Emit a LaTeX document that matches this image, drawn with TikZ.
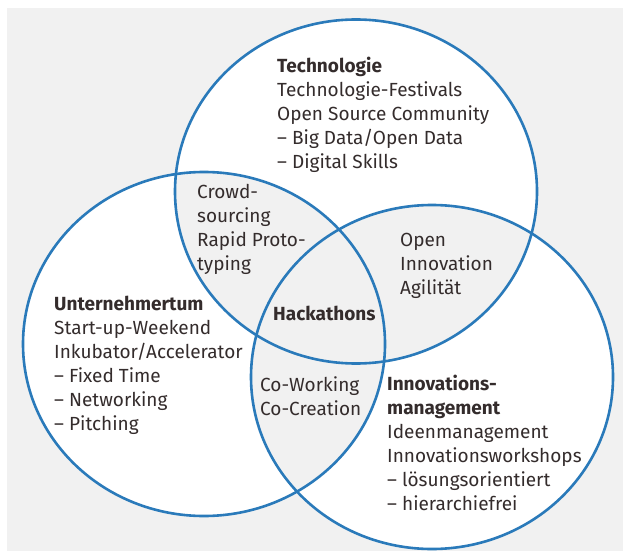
\documentclass[tikz,border=0pt]{standalone}
\usepackage{fontspec}
\setmainfont{Fira Sans}
\usepackage{tikz}
\usetikzlibrary{positioning}
\usepackage{xcolor}
\definecolor{ringblue}{RGB}{42,122,186}
\definecolor{ink}{RGB}{52,44,44}
\definecolor{paper}{RGB}{241,241,241}
\tikzset{
  orbit/.style={draw=ringblue,line width=2.6pt},
  txt/.style={font=\fontsize{19}{24}\selectfont,text=ink,align=left,
    inner sep=0pt,anchor=base west},
  head/.style={txt,font=\fontsize{19}{24}\selectfont\bfseries},
  oval/.style={x radius=181pt,y radius=172pt},
}

\begin{document}
\begin{tikzpicture}[x=1pt,y=-1pt]
  \useasboundingbox (0,0) rectangle (623,553);
  \fill[paper] (7,8) rectangle (623,551);

  % the three circles
  \coordinate (tech) at (356,191.5);
  \coordinate (unt)  at (204,344);
  \coordinate (inno) at (432,377);

  \fill[white] (tech) ellipse [oval];
  \fill[white] (unt) ellipse [oval];
  \fill[white] (inno) ellipse [oval];

  % overlaps in grey
  \begin{scope}
    \clip (tech) ellipse [oval];
    \fill[paper] (unt) ellipse [oval];
    \fill[paper] (inno) ellipse [oval];
  \end{scope}
  \begin{scope}
    \clip (unt) ellipse [oval];
    \fill[paper] (inno) ellipse [oval];
  \end{scope}

  \draw[orbit] (tech) ellipse [oval];
  \draw[orbit] (unt) ellipse [oval];
  \draw[orbit] (inno) ellipse [oval];

  % texts (anchored at the baseline of their last line)
  \node[txt] (techtext) at (277,169) {\textbf{Technologie}\\Technologie-Festivals\\
    Open Source Community\\– Big Data/Open Data\\– Digital Skills};
  \node[txt] (unttext) at (54,430) {\textbf{Unternehmertum}\\Start-up-Weekend\\
    Inkubator/Accelerator\\– Fixed Time\\– Networking\\– Pitching};
  \node[txt] (innotext) at (387,510) {\textbf{Innovations-}\\\textbf{management}\\
    Ideenmanagement\\Innovationsworkshops\\– lösungsorientiert\\– hierarchiefrei};
  \node[txt] (crowd) at (197,270) {Crowd-\\sourcing\\Rapid Proto-\\typing};
  \node[txt] (openinno) at (400,294) {Open\\Innovation\\Agilität};
  \node[head] (hack) at (273,320) {Hackathons};
  \node[txt] (cowork) at (260,415) {Co-Working\\Co-Creation};
\end{tikzpicture}
\end{document}
